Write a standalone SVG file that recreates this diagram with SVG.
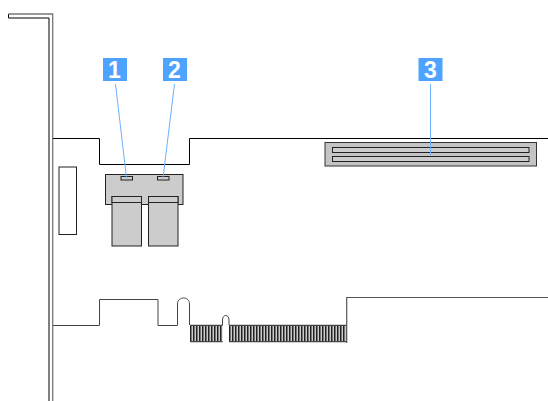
<svg xmlns="http://www.w3.org/2000/svg" width="548" height="401" viewBox="0 0 548 401">
<style>
.l{fill:none;stroke:#000;stroke-width:1}
.g{fill:none;stroke:#444;stroke-width:1}
.p{fill:#ccc;stroke:#222;stroke-width:1}
.b{fill:#4da3ff}
.t{font-family:"Liberation Sans",Arial,sans-serif;font-weight:700;font-size:23px;fill:#fff;text-anchor:middle}
.c{fill:none;stroke:#6db1ff;stroke-width:1}
.f{fill:none;stroke:#222;stroke-width:16;stroke-dasharray:1.5 1.5}
</style>
<g id="bracket">
<path class="l" d="M8.5 14V18H49V401"/>
<path fill="none" stroke="#777" stroke-width="1.3" d="M8.5 14H52.7V401"/>
</g>
<g id="board">
<path class="l" d="M53 138.5H99.5V164.5H189.5V138.5H548"/>
<path class="g" d="M53 325.5H99.5V299.5H158V325.5H177.5V304C177.5 296 189.5 296 189.5 304V325"/>
<path class="g" d="M222.5 325V320C222.5 314 229 314 229 320V325"/>
<path fill="none" stroke="#555" stroke-width="1.2" d="M346.7 343V297.5H548"/>
<rect x="190" y="325" width="32.5" height="17" fill="#ccc"/>
<rect x="229" y="325" width="117.5" height="17" fill="#ccc"/>
<path class="f" d="M190 333.5H222.5M229 333.5H346.5"/>
<path d="M190 325.3H222.5M229 325.3H346.5M190 341.7H222.5M229 341.7H346.5" fill="none" stroke="#444" stroke-width="1.2"/>
</g>
<g id="port"><rect x="59" y="167" width="17.5" height="67.5" fill="#fff" stroke="#222" stroke-width="1"/></g>
<g id="connector-1-2">
<rect class="p" x="105.5" y="174.5" width="77.5" height="30"/>
<rect class="p" x="121" y="176.5" width="11.5" height="3.5"/>
<rect class="p" x="157.5" y="176.5" width="11.5" height="3.5"/>
<rect class="p" x="112" y="196.5" width="29.5" height="49.5"/>
<rect class="p" x="148.5" y="196.5" width="29.5" height="49.5"/>
<rect class="p" x="112" y="196.5" width="29.5" height="6"/>
<rect class="p" x="148.5" y="196.5" width="29.5" height="6"/>
</g>
<g id="slot-3">
<rect x="325" y="142.5" width="211.5" height="23.5" fill="#c4c4c4" stroke="#333" stroke-width="1"/>
<rect class="p" x="332.5" y="147.5" width="196.5" height="5"/>
<rect class="p" x="332.5" y="156.5" width="196.5" height="5"/>
</g>
<g id="connectors">
<line class="c" x1="115.5" y1="84" x2="126.5" y2="178"/>
<line class="c" x1="174.5" y1="84" x2="163" y2="178"/>
<line class="c" x1="430.5" y1="84" x2="430.5" y2="155"/>
</g>
<g id="label-1"><rect class="b" x="103" y="58" width="24" height="23"/><text class="t" x="114.5" y="77.5">1</text></g>
<g id="label-2"><rect class="b" x="163" y="58" width="24" height="23"/><text class="t" x="174.5" y="77.5">2</text></g>
<g id="label-3"><rect class="b" x="418.5" y="58" width="24" height="23"/><text class="t" x="430.5" y="77.5">3</text></g>
</svg>
